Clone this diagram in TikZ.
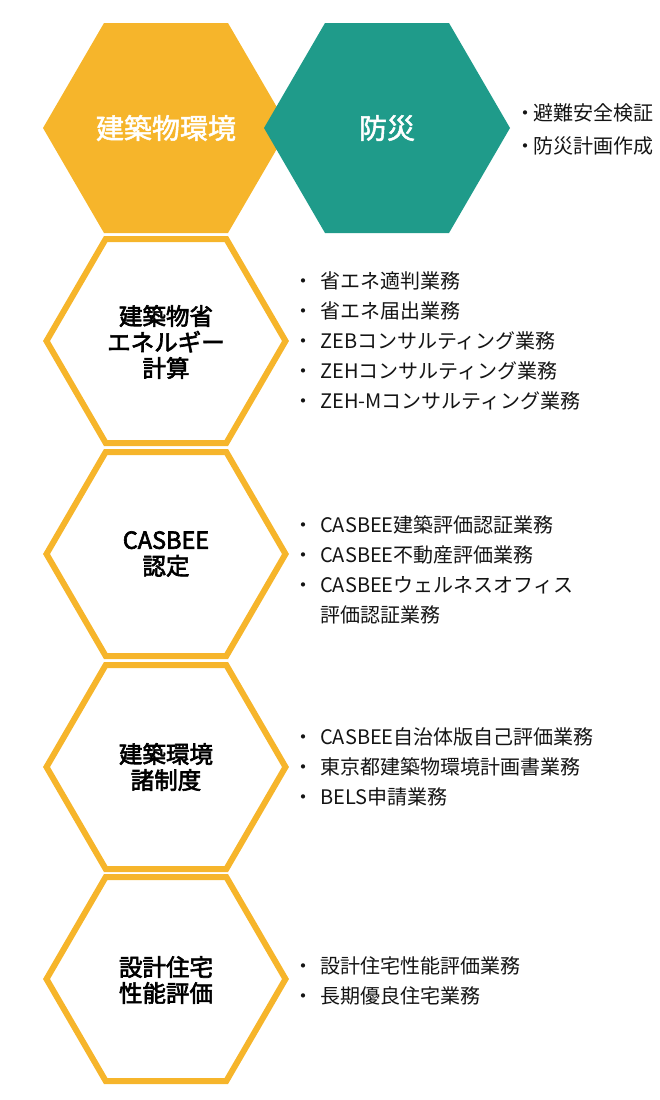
\documentclass[tikz,border=0pt]{standalone}
\usepackage{fontspec}
\setmainfont{Noto Sans CJK JP}
\newfontfamily\medfont{Noto Sans CJK JP}[FakeBold=2.6]
\newfontfamily\topfont{Noto Sans CJK JP}[FakeBold=1.8]
\definecolor{hexyellow}{RGB}{246,181,43}
\definecolor{hexteal}{RGB}{31,155,138}
\begin{document}
\begin{tikzpicture}[x=1pt,y=-1pt,
  outhex/.style={draw=hexyellow,line width=6pt,line join=miter},
  toplabel/.style={text=white,font={\topfont\fontsize{28}{32}\selectfont},inner sep=0pt},
  hexlabel/.style={text=black,align=center,font={\medfont\fontsize{23.5}{26}\selectfont},inner sep=0pt},
  item/.style={anchor=base west,inner sep=0pt,font={\fontsize{20}{30}\selectfont},text=black!92}
]
\useasboundingbox (0,0) rectangle (660,1100);
% top filled hexagons
\fill[hexyellow] (43,128) -- (104,23) -- (228,23) -- (289,128) -- (228,233) -- (104,233) -- cycle;
\fill[hexteal] (264,128) -- (325,23) -- (449,23) -- (510,128) -- (449,233) -- (325,233) -- cycle;
\node[toplabel] (t1) at (166,128) {建築物環境};
\node[toplabel] (t2) at (387,128) {防災};
% outline hexagons
\foreach \cy in {341,554,767,979}{
  \draw[outhex] (46.5,\cy) -- (105.7,\cy-102) -- (226.3,\cy-102) -- (285.5,\cy) -- (226.3,\cy+102) -- (105.7,\cy+102) -- cycle;
}
\node[hexlabel] (h2) at (166,342) {建築物省\\エネルギー\\計算};
\node[hexlabel] (h3) at (166,554) {CASBEE\\認定};
\node[hexlabel] (h4) at (166,767) {建築環境\\諸制度};
\node[hexlabel] (h5) at (166,980) {設計住宅\\性能評価};
% lists
\newcommand\bul{\llap{\makebox[34pt][c]{・}}}
\newcommand\bulb{\llap{\makebox[16pt][c]{・}}}
\node[item] (a1) at (533,120) {\bulb 避難安全検証};
\node[item] (a2) at (533,153) {\bulb 防災計画作成};
\node[item] (b1) at (320,288) {\bul 省エネ適判業務};
\node[item] (b2) at (320,318) {\bul 省エネ届出業務};
\node[item] (b3) at (320,348) {\bul ZEBコンサルティング業務};
\node[item] (b4) at (320,378) {\bul ZEHコンサルティング業務};
\node[item] (b5) at (320,408) {\bul ZEH-Mコンサルティング業務};
\node[item] (c1) at (320,532) {\bul CASBEE建築評価認証業務};
\node[item] (c2) at (320,562) {\bul CASBEE不動産評価業務};
\node[item] (c3) at (320,592) {\bul CASBEEウェルネスオフィス};
\node[item] (c4) at (320,622) {評価認証業務};
\node[item] (d1) at (320,744) {\bul CASBEE自治体版自己評価業務};
\node[item] (d2) at (320,774) {\bul 東京都建築物環境計画書業務};
\node[item] (d3) at (320,804) {\bul BELS申請業務};
\node[item] (e1) at (320,973) {\bul 設計住宅性能評価業務};
\node[item] (e2) at (320,1003) {\bul 長期優良住宅業務};
\end{tikzpicture}
\end{document}
